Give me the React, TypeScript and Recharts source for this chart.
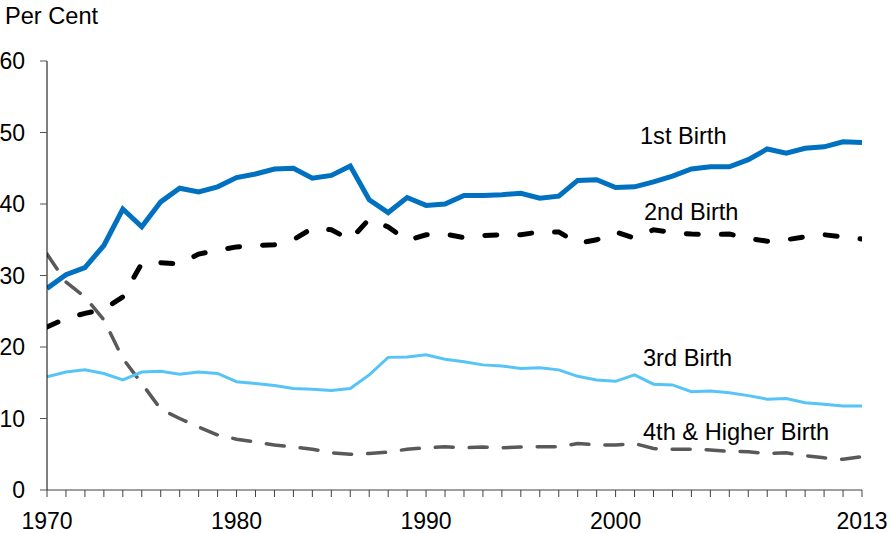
import React from "react";
import { LineChart, Line, XAxis, YAxis } from "recharts";

const years = [
  1970, 1971, 1972, 1973, 1974, 1975, 1976, 1977, 1978, 1979,
  1980, 1981, 1982, 1983, 1984, 1985, 1986, 1987, 1988, 1989,
  1990, 1991, 1992, 1993, 1994, 1995, 1996, 1997, 1998, 1999,
  2000, 2001, 2002, 2003, 2004, 2005, 2006, 2007, 2008, 2009,
  2010, 2011, 2012, 2013,
];

const firstBirth = [
  28.2, 30.1, 31.1, 34.2, 39.3, 36.8, 40.3, 42.2, 41.7, 42.4,
  43.7, 44.2, 44.9, 45.0, 43.6, 44.0, 45.3, 40.6, 38.8, 40.9,
  39.8, 40.0, 41.2, 41.2, 41.3, 41.5, 40.8, 41.1, 43.3, 43.4,
  42.3, 42.4, 43.1, 43.9, 44.9, 45.2, 45.2, 46.2, 47.7, 47.1,
  47.8, 48.0, 48.7, 48.6,
];

const secondBirth = [
  22.8, 24.0, 24.7, 25.3, 27.0, 31.7, 31.8, 31.6, 33.0, 33.5,
  34.0, 34.2, 34.3, 35.0, 36.6, 36.4, 35.0, 37.9, 36.8, 34.9,
  35.7, 35.8, 35.3, 35.6, 35.7, 35.7, 36.1, 36.1, 34.5, 35.0,
  36.1, 35.2, 36.4, 36.0, 35.8, 35.7, 35.8, 35.2, 34.8, 35.0,
  35.4, 35.7, 35.4, 35.1,
];

const thirdBirth = [
  15.85, 16.5, 16.8, 16.3, 15.4, 16.5, 16.6, 16.2, 16.5, 16.3,
  15.15, 14.9, 14.6, 14.2, 14.1, 13.9, 14.2, 16.1, 18.55, 18.6,
  18.9, 18.3, 17.95, 17.5, 17.35, 17.0, 17.1, 16.8, 15.9, 15.4,
  15.2, 16.1, 14.8, 14.7, 13.75, 13.85, 13.6, 13.2, 12.7, 12.8,
  12.2, 12.0, 11.75, 11.75,
];

const fourthBirth = [
  33.0, 29.1, 27.0, 23.8, 18.4, 14.9, 11.3, 10.0, 8.8, 7.7,
  7.1, 6.7, 6.3, 6.0, 5.7, 5.2, 5.0, 5.1, 5.3, 5.7,
  5.9, 6.05, 5.9, 6.0, 5.9, 6.0, 6.05, 6.05, 6.5, 6.3,
  6.3, 6.5, 5.8, 5.7, 5.7, 5.6, 5.4, 5.35, 5.1, 5.2,
  4.8, 4.5, 4.3, 4.65,
];

const labeledYears = [1970, 1980, 1990, 2000, 2013];
const yTicks = [0, 10, 20, 30, 40, 50, 60];

const data = years.map((y, i) => ({
  year: y,
  first: firstBirth[i],
  second: secondBirth[i],
  third: thirdBirth[i],
  fourth: fourthBirth[i],
}));

const FONT = "'Liberation Sans', Arial, sans-serif";
const textStyle = { fontFamily: FONT, fontSize: 23.6, fill: "#000" };

export default function App() {
  return (
    <div style={{ position: "absolute", left: 0, top: 0, width: 890, height: 533 }}>
      <LineChart
        width={890}
        height={533}
        data={data}
        margin={{ top: 61, right: 28, bottom: 0, left: 0 }}
      >
        <XAxis
          dataKey="year"
          type="number"
          domain={[1970, 2013]}
          ticks={years}
          interval={0}
          allowDataOverflow
          height={43}
          tickSize={7}
          tickMargin={16}
          axisLine={{ stroke: "#7f7f7f", strokeWidth: 1.5 }}
          tickLine={{ stroke: "#404040" }}
          tick={{ fill: "#000", fontSize: 23, fontFamily: FONT }}
          tickFormatter={(v: number) => (labeledYears.includes(v) ? String(v) : "")}
        />
        <YAxis
          domain={[0, 60]}
          ticks={yTicks}
          width={47}
          tickSize={7}
          tickMargin={15}
          axisLine={{ stroke: "#000" }}
          tickLine={{ stroke: "#555" }}
          tick={{ fill: "#000", fontSize: 23, fontFamily: FONT }}
        />
        <Line
          type="linear"
          dataKey="fourth"
          stroke="#595959"
          strokeWidth={3.5}
          strokeDasharray="18 16"
          strokeLinecap="round"
          dot={false}
          isAnimationActive={false}
        />
        <Line
          type="linear"
          dataKey="third"
          stroke="#57C4F8"
          strokeWidth={3}
          dot={false}
          isAnimationActive={false}
        />
        <Line
          type="linear"
          dataKey="second"
          stroke="#000"
          strokeWidth={5}
          strokeDasharray="12 23"
          strokeLinecap="round"
          dot={false}
          isAnimationActive={false}
        />
        <Line
          type="linear"
          dataKey="first"
          stroke="#0070C0"
          strokeWidth={5}
          dot={false}
          isAnimationActive={false}
        />
        <text x={5} y={24} style={textStyle}>Per Cent</text>
        <text x={640} y={144} style={textStyle}>1st Birth</text>
        <text x={644} y={220} style={textStyle}>2nd Birth</text>
        <text x={643} y={366} style={textStyle}>3rd Birth</text>
        <text x={643} y={440} style={textStyle}>4th &amp; Higher Birth</text>
      </LineChart>
    </div>
  );
}
